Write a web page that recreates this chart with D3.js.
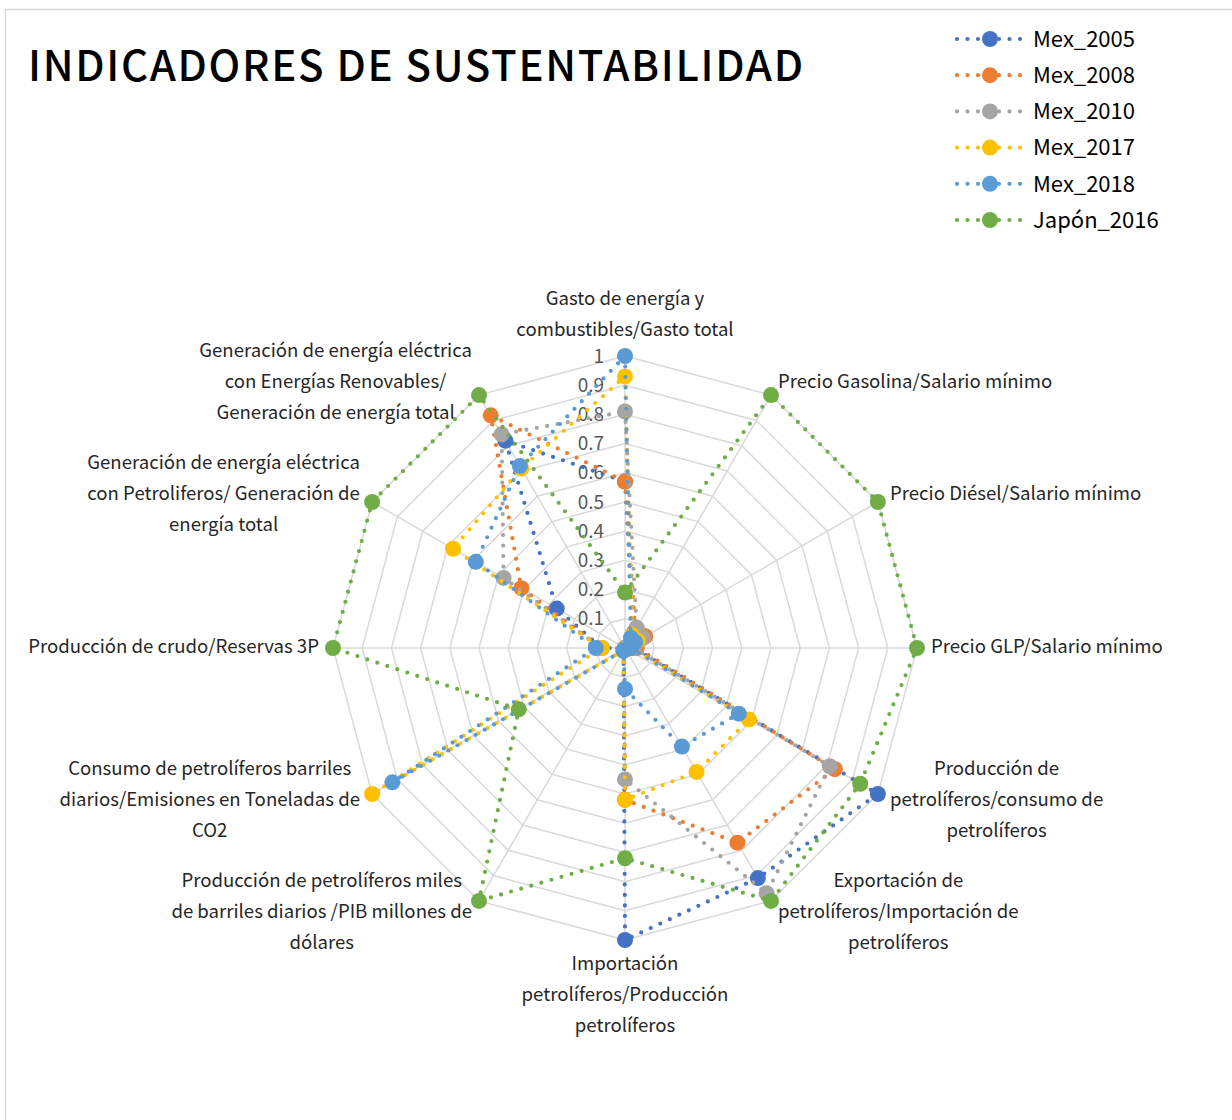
<html lang="es">
<head>
  <meta charset="UTF-8" />
  <title>Indicadores de sustentabilidad</title>
  <style>
    body { margin: 0; background: #fff; }
    svg { display: block; font-family: "Noto Sans CJK JP", "Noto Sans", sans-serif; }
    .grid { fill: none; stroke: #d9d9d9; stroke-width: 1.5px; }
    .spoke { stroke: #d9d9d9; stroke-width: 1.5px; }
    .tick { fill: #595959; font-size: 19px; }
    .cat { fill: #262626; font-size: 18.6px; }
    .series-line { fill: none; stroke-width: 4.2px; stroke-linecap: round; stroke-dasharray: 0 10.5; }
  </style>
</head>
<body>
  <svg width="1232" height="1120"></svg>

  <script src="https://d3js.org/d3.v7.min.js"></script>
  <script>
    // axis labels, clockwise from the top (lines as they wrap in the picture)
    const categories = [
      ["Gasto de energía y", "combustibles/Gasto total"],
      ["Precio Gasolina/Salario mínimo"],
      ["Precio Diésel/Salario mínimo"],
      ["Precio GLP/Salario mínimo"],
      ["Producción de", "petrolíferos/consumo de", "petrolíferos"],
      ["Exportación de", "petrolíferos/Importación de", "petrolíferos"],
      ["Importación", "petrolíferos/Producción", "petrolíferos"],
      ["Producción de petrolíferos miles", "de barriles diarios /PIB millones de", "dólares"],
      ["Consumo de petrolíferos  barriles", "diarios/Emisiones en Toneladas de", "CO2"],
      ["Producción de crudo/Reservas 3P"],
      ["Generación de energía eléctrica", "con Petroliferos/ Generación de", "energía total"],
      ["Generación de energía eléctrica", "con Energías Renovables/", "Generación de energía total"]
    ];

    const seriesNames = ["Mex_2005", "Mex_2008", "Mex_2010", "Mex_2017", "Mex_2018", "Japón_2016"];
    const seriesColors = ["#4472c4", "#ed7d31", "#a5a5a5", "#ffc000", "#5b9bd5", "#70ad47"];

    const mex2005 = [0.57, 0.06, 0.07, 0.03, 1.00, 0.91, 1.00, 0.01, 0.00, 0.08, 0.27, 0.82];
    const mex2008 = [0.57, 0.07, 0.08, 0.04, 0.83, 0.77, 0.52, 0.01, 0.00, 0.08, 0.41, 0.92];
    const mex2010 = [0.81, 0.08, 0.07, 0.03, 0.81, 0.97, 0.45, 0.01, 0.00, 0.08, 0.48, 0.845];
    const mex2017 = [0.93, 0.05, 0.05, 0.02, 0.49, 0.49, 0.52, 0.01, 1.00, 0.08, 0.68, 0.71];
    const mex2018 = [1.00, 0.04, 0.04, 0.02, 0.45, 0.39, 0.14, 0.01, 0.92, 0.10, 0.59, 0.72];
    const japon2016 = [0.19, 1.00, 1.00, 1.00, 0.93, 1.00, 0.72, 1.00, 0.42, 1.00, 1.00, 1.00];

    const seriesValues = [mex2005, mex2008, mex2010, mex2017, mex2018, japon2016];
    const tickValues = [0, 0.1, 0.2, 0.3, 0.4, 0.5, 0.6, 0.7, 0.8, 0.9, 1];

    const svg = d3.select("svg");
    const cx = 625, cy = 648, R = 292;

    const r = d3.scaleLinear().domain([0, 1]).range([0, R]);
    const angle = d3.scaleLinear().domain([0, categories.length]).range([0, 2 * Math.PI]);
    const pt = (i, v) => [cx + r(v) * Math.sin(angle(i)), cy - r(v) * Math.cos(angle(i))];

    // chart border
    svg.append("rect")
      .attr("x", 5.5).attr("y", 9.5)
      .attr("width", 1300).attr("height", 1200)
      .attr("fill", "none").attr("stroke", "#d9d9d9").attr("stroke-width", 1.5);

    // title
    svg.append("text")
      .attr("x", 28).attr("y", 81)
      .attr("font-size", 42)
      .attr("font-weight", 500)
      .attr("fill", "#000")
      .attr("textLength", 775)
      .attr("lengthAdjust", "spacing")
      .text("INDICADORES DE SUSTENTABILIDAD");

    // grid rings
    const idx = d3.range(categories.length);
    const ring = d3.line();
    svg.append("g").selectAll("path")
      .data(tickValues.slice(1))
      .join("path")
      .attr("class", "grid")
      .attr("d", v => ring(idx.map(i => pt(i, v))) + "Z");

    svg.append("g").selectAll("line")
      .data(idx)
      .join("line")
      .attr("class", "spoke")
      .attr("x1", cx).attr("y1", cy)
      .attr("x2", i => pt(i, 1)[0])
      .attr("y2", i => pt(i, 1)[1]);

    // tick labels along the top axis
    svg.append("g").selectAll("text")
      .data(tickValues)
      .join("text")
      .attr("class", "tick")
      .attr("x", cx - 21)
      .attr("y", v => cy - r(v))
      .attr("dy", "0.35em")
      .attr("text-anchor", "end")
      .text(v => d3.format("~g")(v));

    // category labels
    const lineH = 31;
    const catG = svg.append("g");
    categories.forEach((lines, i) => {
      const s = Math.sin(angle(i)), c = Math.cos(angle(i));
      const vertical = Math.abs(s) < 1e-6;
      const [ax, ay] = pt(i, vertical ? 1.033 : 1.048);
      const t = catG.append("text").attr("class", "cat");
      const spans = lines.map(l => t.append("tspan").text(l));
      const w = d3.max(spans, sp => sp.node().getComputedTextLength());
      const h = lines.length * lineH;
      let midX, top;
      if (vertical) midX = ax; else if (s > 0) midX = ax + w / 2; else midX = ax - w / 2;
      if (vertical) top = c > 0 ? ay - h : ay; else top = ay - h / 2;
      spans.forEach((sp, k) => {
        sp.attr("x", midX)
          .attr("y", top + lineH * k + lineH / 2 - 1.5)
          .attr("dy", "0.35em")
          .attr("text-anchor", "middle");
      });
    });

    // series
    const lineGen = d3.line().curve(d3.curveLinearClosed);
    seriesValues.forEach((vals, si) => {
      const g = svg.append("g");
      const pts = vals.map((v, i) => pt(i, v));
      g.append("path")
        .attr("class", "series-line")
        .attr("stroke", seriesColors[si])
        .attr("d", lineGen(pts));
      g.selectAll("circle")
        .data(pts)
        .join("circle")
        .attr("cx", d => d[0]).attr("cy", d => d[1])
        .attr("r", 8)
        .attr("fill", seriesColors[si]);
    });

    // legend
    const legend = svg.append("g").selectAll("g")
      .data(seriesNames)
      .join("g")
      .attr("transform", (d, i) => `translate(0,${39 + i * 36.2})`);
    legend.append("line")
      .attr("class", "series-line")
      .attr("x1", 957).attr("x2", 1023)
      .attr("y1", 0).attr("y2", 0)
      .attr("stroke-dasharray", "0 11")
      .attr("stroke", (d, i) => seriesColors[i]);
    legend.append("circle")
      .attr("cx", 990).attr("cy", 0).attr("r", 8)
      .attr("fill", (d, i) => seriesColors[i]);
    legend.append("text")
      .attr("x", 1033).attr("dy", "0.35em")
      .attr("font-size", 22)
      .attr("fill", "#000")
      .text(d => d);
  </script>
</body>
</html>
